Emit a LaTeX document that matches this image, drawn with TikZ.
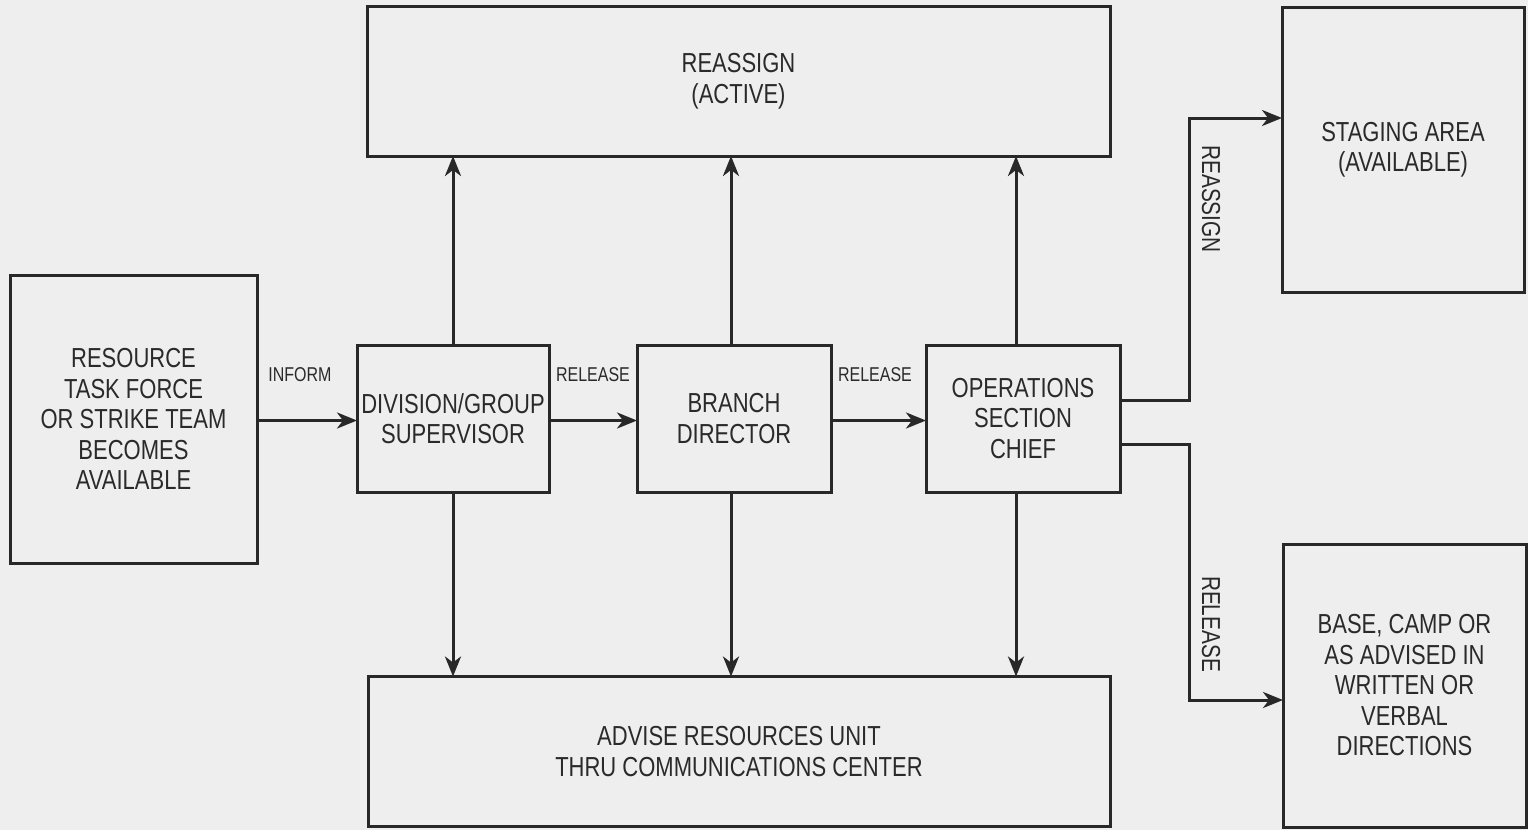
\documentclass[tikz,border=0pt]{standalone}
\usepackage{fontspec}
\setmainfont[FakeStretch=0.8]{Liberation Sans}
\usetikzlibrary{arrows.meta}
\definecolor{bg}{RGB}{238,238,238}
\definecolor{ink}{RGB}{40,40,40}
\definecolor{txt}{RGB}{42,42,42}
\begin{document}
\begin{tikzpicture}[x=1pt,y=-1pt,
  box/.style={draw=ink,line width=3pt,rectangle,inner sep=0pt,outer sep=0pt,
    align=center,text=txt,font=\fontsize{27.5}{30.5}\selectfont},
  lbl/.style={text=txt,inner sep=0pt,font=\fontsize{20}{22}\selectfont},
  vlbl/.style={text=txt,inner sep=0pt,rotate=-90,font=\fontsize{26}{28}\selectfont},
  arr/.style={draw=ink,line width=3pt,-{Stealth[length=20pt,width=16pt,inset=6pt]}}]
\useasboundingbox (0,0) rectangle (1528,830);
\fill[bg] (0,0) rectangle (1528,830);

\node[box,minimum width=247pt,minimum height=288pt] (res) at (133.5,419)
  {RESOURCE\\TASK FORCE\\OR STRIKE TEAM\\BECOMES\\AVAILABLE};
\node[box,minimum width=192pt,minimum height=147pt] (div) at (453,418.5)
  {DIVISION/GROUP\\SUPERVISOR};
\node[box,minimum width=194pt,minimum height=147pt] (br) at (734,418.5)
  {BRANCH\\DIRECTOR};
\node[box,minimum width=194pt,minimum height=147pt] (ops) at (1023,418.5)
  {OPERATIONS\\SECTION\\CHIEF};
\node[box,minimum width=743pt,minimum height=150pt] (act) at (738.5,81)
  {REASSIGN\\(ACTIVE)};
\node[box,minimum width=742pt,minimum height=150pt] (adv) at (739,751.5)
  {ADVISE RESOURCES UNIT\\THRU COMMUNICATIONS CENTER};
\node[box,minimum width=242pt,minimum height=285pt] (stg) at (1403,149.5)
  {STAGING AREA\\(AVAILABLE)};
\node[box,minimum width=243pt,minimum height=283pt] (base) at (1404.5,685.5)
  {BASE, CAMP OR\\AS ADVISED IN\\WRITTEN OR\\VERBAL\\DIRECTIONS};

% horizontal flow
\draw[arr] ([yshift=-2pt]res.east |- div.west) -- ([yshift=-2pt]div.west);
\draw[arr] ([yshift=-2pt]div.east) -- ([yshift=-2pt]br.west);
\draw[arr] ([yshift=-2pt]br.east) -- ([yshift=-2pt]ops.west);
\node[lbl] (l1) at (300,375) {INFORM};
\node[lbl] (l2) at (593,375) {RELEASE};
\node[lbl] (l3) at (875,375) {RELEASE};

% up to reassign (active)
\draw[arr] (div.north) -- (div.north |- act.south);
\draw[arr] ([xshift=-3pt]br.north) -- ([xshift=-3pt]br.north |- act.south);
\draw[arr] ([xshift=-7pt]ops.north) -- ([xshift=-7pt]ops.north |- act.south);

% down to advise
\draw[arr] (div.south) -- (div.south |- adv.north);
\draw[arr] ([xshift=-3pt]br.south) -- ([xshift=-3pt]br.south |- adv.north);
\draw[arr] ([xshift=-7pt]ops.south) -- ([xshift=-7pt]ops.south |- adv.north);

% right side branches
\coordinate (ra) at ([yshift=31.5pt]stg.west);
\coordinate (rb) at ([yshift=-14.5pt]base.west);
\draw[arr] ([yshift=18.5pt]ops.east) -- ++(69,0) |- (ra);
\draw[arr] ([yshift=-25.5pt]ops.east) -- ++(69,0) |- (rb);
\node[vlbl] (l4) at (1211,199) {REASSIGN};
\node[vlbl] (l5) at (1211,624) {RELEASE};
\end{tikzpicture}
\end{document}
